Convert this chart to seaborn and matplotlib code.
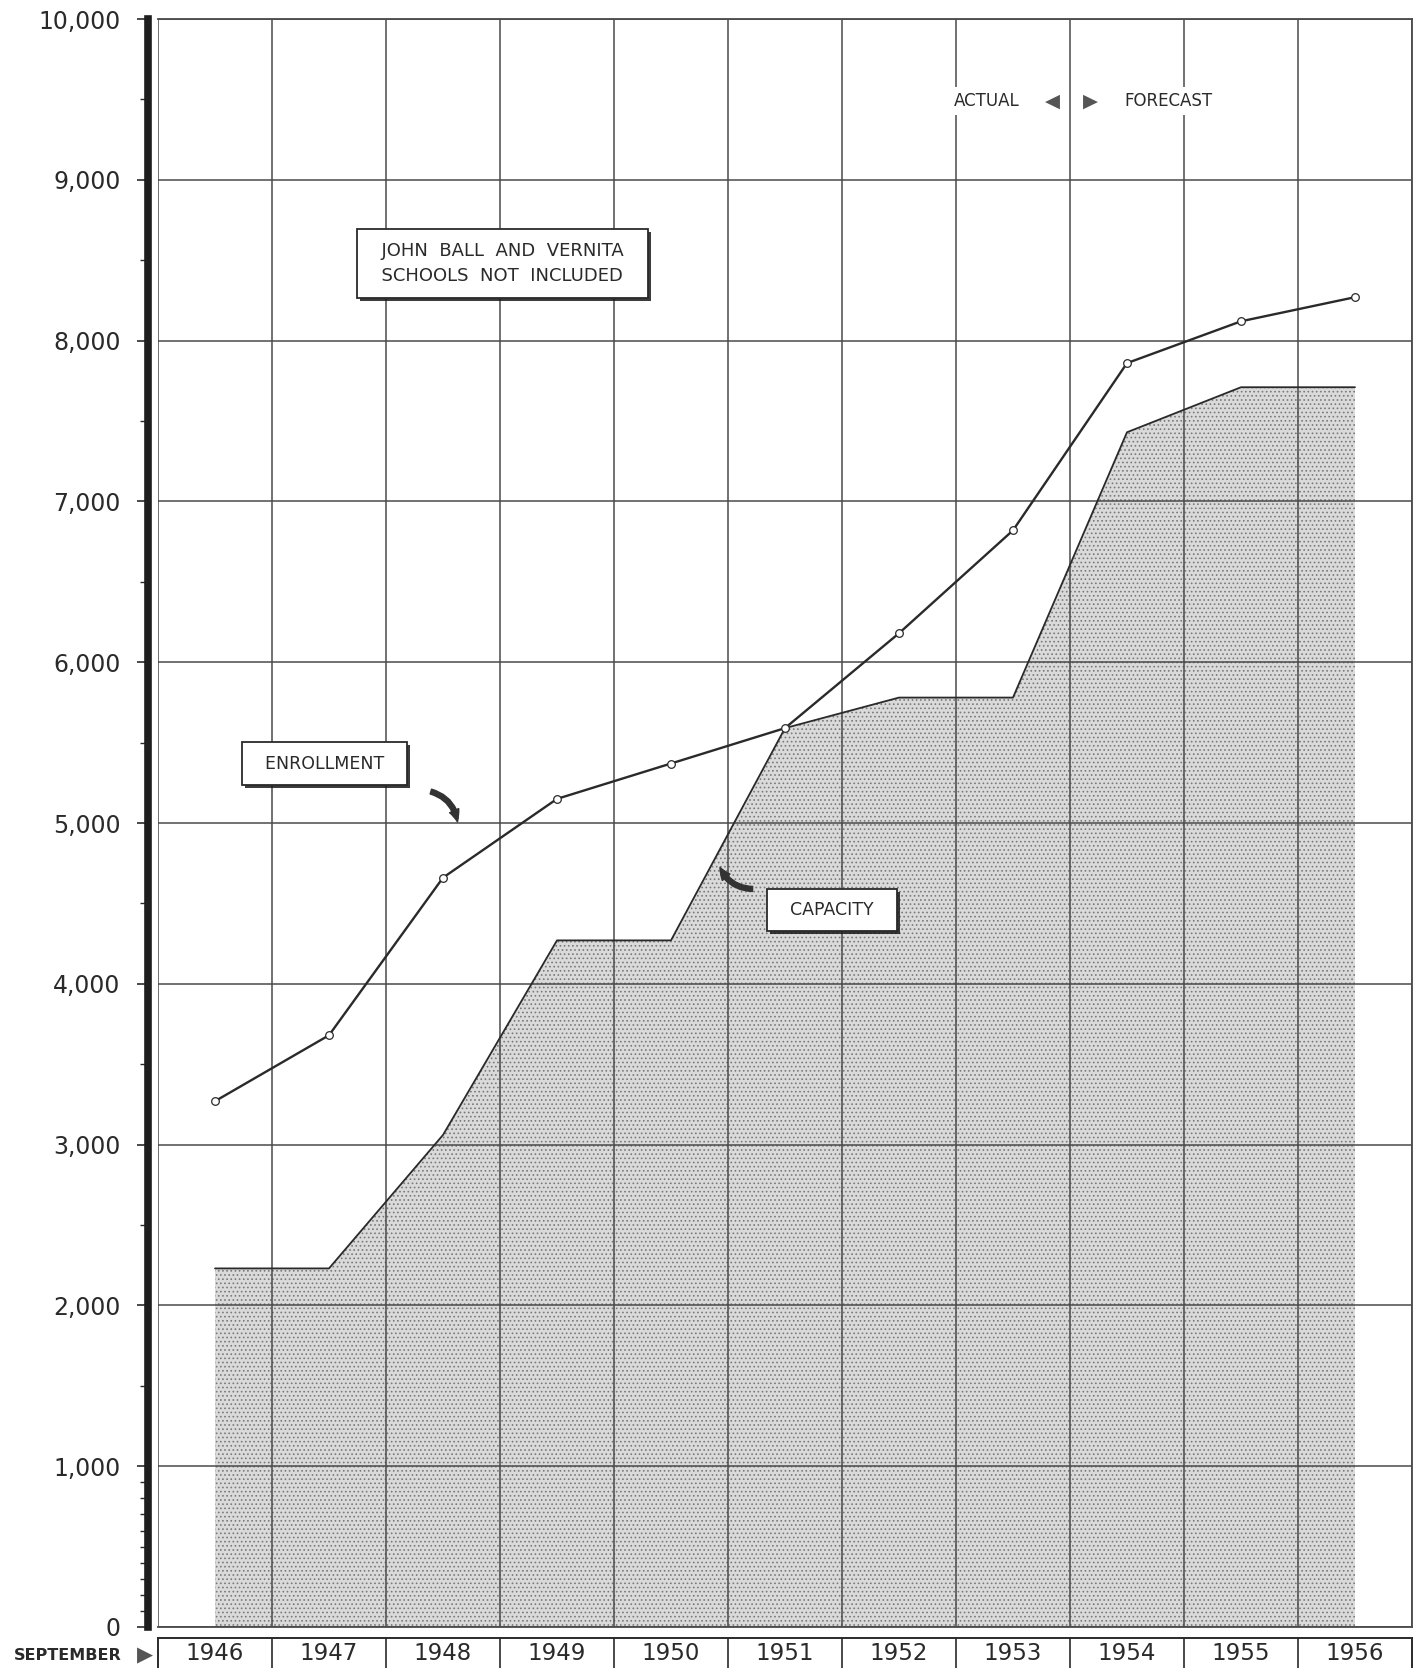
import numpy as np
import pandas as pd
import matplotlib
matplotlib.use("Agg")
import matplotlib.pyplot as plt
import matplotlib.patheffects as pe
from matplotlib.ticker import FixedLocator
import seaborn as sns

# data
years = [1946, 1947, 1948, 1949, 1950, 1951, 1952, 1953, 1954, 1955, 1956]
enrollment = [3270, 3680, 4660, 5150, 5370, 5590, 6180, 6820, 7860, 8120, 8270]
capacity = [2230, 2230, 3060, 4270, 4270, 5590, 5780, 5780, 7430, 7710, 7710]
y_ticks = [0, 1000, 2000, 3000, 4000, 5000, 6000, 7000, 8000, 9000, 10000]
y_labels = ["0", "1,000", "2,000", "3,000", "4,000", "5,000",
            "6,000", "7,000", "8,000", "9,000", "10,000"]
note_text = "  JOHN  BALL  AND  VERNITA  \n  SCHOOLS  NOT  INCLUDED  "

df = pd.DataFrame({"year": years, "enrollment": enrollment, "capacity": capacity})

sns.set_theme(style="white")
plt.rcParams["font.family"] = ["DejaVu Sans"]
plt.rcParams["hatch.linewidth"] = 0.7
plt.rcParams["hatch.color"] = "#7a7a7a"

ink = "#2a2a2a"
grid_c = "#4a4a4a"

fig = plt.figure(figsize=(14.22, 16.68), dpi=100)
ax = fig.add_axes([158 / 1422, 41 / 1668, 1254 / 1422, 1608 / 1668])

# capacity (stippled area)
ax.fill_between(df["year"], 0, df["capacity"], facecolor="#dadada",
                hatch="....", edgecolor="#7a7a7a", linewidth=0)
sns.lineplot(data=df, x="year", y="capacity", ax=ax, color=ink, linewidth=1.3, zorder=3)

# enrollment
sns.lineplot(data=df, x="year", y="enrollment", ax=ax, color=ink, linewidth=1.7,
             marker="o", markersize=5.5, markerfacecolor="white",
             markeredgecolor=ink, markeredgewidth=0.9, zorder=4)

ax.set_xlim(years[0] - 0.5, years[-1] + 0.5)
ax.set_ylim(0, 10000)
ax.set_xticks([y - 0.5 for y in years] + [years[-1] + 0.5])
ax.set_xticklabels([])
ax.tick_params(axis="x", length=0)
ax.set_yticks(y_ticks)
ax.set_yticklabels(y_labels)
minor = [v for v in range(100, 1000, 100)] + [v for v in range(1500, 10000, 1000)]
ax.yaxis.set_minor_locator(FixedLocator(minor))
ax.tick_params(axis="y", which="major", left=True, length=8, width=1.2,
               color=ink, pad=12, direction="out", labelsize=17, labelcolor=ink)
ax.tick_params(axis="y", which="minor", left=True, length=5.5, width=1.0,
               color=ink, direction="out")
ax.set_axisbelow("line")
ax.grid(True, color=grid_c, linewidth=1.1)
ax.set_xlabel("")
ax.set_ylabel("")

for s in ["top", "right", "bottom"]:
    ax.spines[s].set_color(grid_c)
    ax.spines[s].set_linewidth(1.3)
ax.spines["left"].set_position(("outward", 7))
ax.spines["left"].set_linewidth(5.5)
ax.spines["left"].set_color("#1e1e1e")

# label boxes
box_kw = dict(boxstyle="square,pad=0.7", fc="white", ec=ink, lw=1.3)
shadow = [pe.SimplePatchShadow(offset=(2.2, -2.2), shadow_rgbFace="k", alpha=0.85),
          pe.Normal()]

t1 = ax.text(1948.52, 8480, note_text, fontsize=13, color=ink, ha="center",
             va="center", linespacing=1.55, bbox=box_kw, zorder=6)
t2 = ax.text(1946.96, 5370, "  ENROLLMENT  ", fontsize=12.5, color=ink,
             ha="center", va="center", bbox=box_kw, zorder=6)
t3 = ax.text(1951.41, 4460, "  CAPACITY  ", fontsize=12.5, color=ink,
             ha="center", va="center", bbox=box_kw, zorder=6)
for t in (t1, t2, t3):
    t.get_bbox_patch().set_path_effects(shadow)

# curved pointer arrows
ax.annotate("", xy=(1948.13, 4990), xytext=(1947.87, 5200),
            arrowprops=dict(arrowstyle="simple,head_length=0.7,head_width=0.6,tail_width=0.3",
                            connectionstyle="arc3,rad=-0.35", fc="#333333", ec="#333333"),
            zorder=6)
ax.annotate("", xy=(1950.42, 4740), xytext=(1950.74, 4590),
            arrowprops=dict(arrowstyle="simple,head_length=0.7,head_width=0.6,tail_width=0.3",
                            connectionstyle="arc3,rad=-0.35", fc="#333333", ec="#333333"),
            zorder=6)

# actual / forecast marker
wbg = dict(boxstyle="square,pad=0.3", fc="white", ec="none")
ax.text(1953.06, 9490, "ACTUAL", fontsize=12, color=ink, ha="right", va="center",
        bbox=wbg, zorder=6)
ax.text(1953.35, 9490, "◀", fontsize=14, color="#555555", ha="center", va="center", zorder=6)
ax.text(1953.68, 9490, "▶", fontsize=14, color="#555555", ha="center", va="center", zorder=6)
ax.text(1953.98, 9490, "FORECAST", fontsize=12, color=ink, ha="left", va="center",
        bbox=wbg, zorder=6)

# year boxes under the chart
bx = fig.add_axes([158 / 1422, -6 / 1668, 1254 / 1422, 36 / 1668])
bx.set_xlim(years[0] - 0.5, years[-1] + 0.5)
bx.set_ylim(0, 1)
for y in years[1:]:
    bx.axvline(y - 0.5, color=ink, linewidth=1.2)
for y in years:
    bx.text(y, 0.58, str(y), fontsize=16.5, color=ink, ha="center", va="center")
bx.set_xticks([])
bx.set_yticks([])
for s in bx.spines.values():
    s.set_color(ink)
    s.set_linewidth(1.4)

fig.text(122 / 1422, 13 / 1668, "SEPTEMBER", fontsize=11.5, color=ink,
         ha="right", va="center", fontweight="bold")
fig.text(145 / 1422, 13 / 1668, "▶", fontsize=15, color="#555555",
         ha="center", va="center")

fig.savefig("out.png", dpi=100)
